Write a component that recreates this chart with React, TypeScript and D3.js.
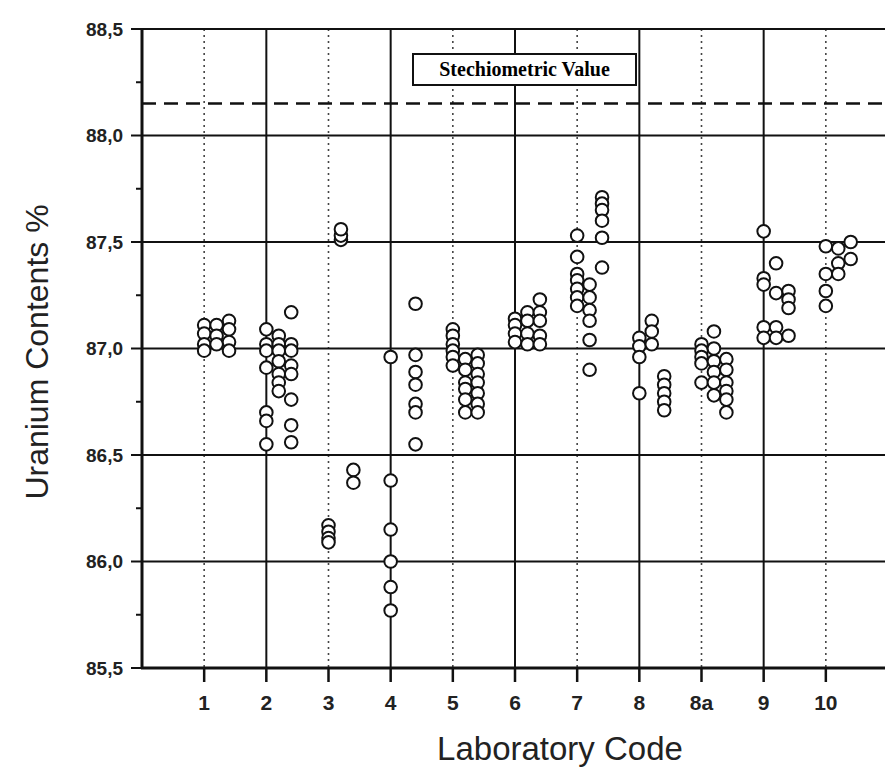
import React from 'react';
import * as d3 from 'd3';

// laboratory codes along the x axis (positions 1..11)
const labCodes = ["1", "2", "3", "4", "5", "6", "7", "8", "8a", "9", "10"];

// three replicate series per laboratory
const replicateA = [
  [87.11, 87.07, 87.02, 86.99],
  [87.09, 87.02, 86.99, 86.91, 86.70, 86.66, 86.55],
  [86.17, 86.14, 86.11, 86.09],
  [86.96, 86.38, 86.15, 86.0, 85.88, 85.77],
  [87.09, 87.06, 87.02, 86.99, 86.96, 86.92],
  [87.14, 87.11, 87.07, 87.03],
  [87.53, 87.43, 87.35, 87.32, 87.28, 87.24, 87.20],
  [87.05, 87.01, 86.96, 86.79],
  [87.02, 86.99, 86.96, 86.93, 86.84],
  [87.55, 87.33, 87.30, 87.10, 87.05],
  [87.48, 87.35, 87.27, 87.20],
];
const replicateB = [
  [87.11, 87.06, 87.02],
  [87.06, 87.02, 86.99, 86.94, 86.88, 86.84, 86.80],
  [87.51, 87.53, 87.56],
  [],
  [86.95, 86.90, 86.84, 86.81, 86.76, 86.70],
  [87.17, 87.13, 87.07, 87.02],
  [87.30, 87.24, 87.18, 87.13, 87.04, 86.90],
  [87.13, 87.08, 87.02],
  [87.08, 87.00, 86.94, 86.89, 86.84, 86.78],
  [87.40, 87.26, 87.10, 87.05],
  [87.47, 87.40, 87.35],
];
const replicateC = [
  [87.13, 87.09, 87.03, 86.99],
  [87.17, 87.02, 86.99, 86.92, 86.88, 86.76, 86.64, 86.56],
  [86.43, 86.37],
  [87.21, 86.97, 86.89, 86.83, 86.74, 86.70, 86.55],
  [86.97, 86.93, 86.88, 86.84, 86.79, 86.74, 86.70],
  [87.23, 87.17, 87.13, 87.06, 87.02],
  [87.71, 87.68, 87.65, 87.60, 87.52, 87.38],
  [86.87, 86.83, 86.79, 86.75, 86.71],
  [86.95, 86.90, 86.84, 86.80, 86.76, 86.70],
  [87.27, 87.23, 87.19, 87.06],
  [87.50, 87.42],
];

const stoichiometricValue = 88.15;
const yTicks = [85.5, 86.0, 86.5, 87.0, 87.5, 88.0, 88.5];
const yMinorTicks = [85.75, 86.25, 86.75, 87.25, 87.75, 88.25];

const width = 885;
const height = 769;
const margin = { top: 29, left: 142, bottom: 101 };

export default function App() {
  const x = d3.scaleLinear().domain([0, 12]).range([margin.left, 888]);
  const y = d3.scaleLinear().domain([85.5, 88.5]).range([height - margin.bottom, margin.top]);
  const shift = d3.scalePoint().domain(["A", "B", "C"]).range([0, 0.4]);

  const series = [
    { key: "A", values: replicateA },
    { key: "B", values: replicateB },
    { key: "C", values: replicateC },
  ];
  const points = series.flatMap(s =>
    s.values.flatMap((vals, i) => vals.map(v => ({ pos: i + 1 + shift(s.key), v })))
  );

  const fmt = (v: number) => d3.format(".1f")(v).replace(".", ",");
  const positions = labCodes.map((_, i) => i + 1);
  const x0 = x(0);
  const yb = y(85.5);
  const yt = y(88.5);

  return (
    <svg width={width} height={height}
      style={{ position: "absolute", left: 0, top: 0, background: "#fff" }}
      fontFamily="'Liberation Sans', Arial, sans-serif">
      {/* minor (dotted) vertical grid at odd positions */}
      {positions.filter(p => p % 2 === 1).map(p => (
        <line key={"mv" + p} x1={x(p)} x2={x(p)} y1={yt} y2={yb}
          stroke="#444" strokeWidth={1.6} strokeDasharray="2,4" />
      ))}
      {/* major vertical grid at even positions */}
      {positions.filter(p => p % 2 === 0).map(p => (
        <line key={"Mv" + p} x1={x(p)} x2={x(p)} y1={yt} y2={yb}
          stroke="#111" strokeWidth={2} />
      ))}
      {/* horizontal grid */}
      {yTicks.slice(1, -1).map(t => (
        <line key={"h" + t} x1={x0} x2={width} y1={y(t)} y2={y(t)}
          stroke="#111" strokeWidth={2} />
      ))}
      {/* top frame */}
      <line x1={x0} x2={width} y1={yt} y2={yt} stroke="#111" strokeWidth={2} />

      {/* stoichiometric reference */}
      <line x1={x0} x2={width} y1={y(stoichiometricValue)} y2={y(stoichiometricValue)}
        stroke="#111" strokeWidth={2.5} strokeDasharray="14,8" />
      <rect x={413} y={54} width={223} height={31} fill="#fff" stroke="#111" strokeWidth={2} />
      <text x={524.5} y={76} textAnchor="middle" fontFamily="'Liberation Serif', 'Times New Roman', serif"
        fontWeight="bold" fontSize={20}>Stechiometric Value</text>

      {/* data points */}
      {points.map((d, i) => (
        <circle key={i} cx={x(d.pos)} cy={y(d.v)} r={6.3}
          fill="#fff" stroke="#111" strokeWidth={2} />
      ))}

      {/* axes */}
      <line x1={x0} x2={x0} y1={yt - 1} y2={yb + 1} stroke="#111" strokeWidth={3} />
      <line x1={x0 - 1} x2={width} y1={yb} y2={yb} stroke="#111" strokeWidth={3} />
      {yTicks.map(t => (
        <g key={"yt" + t}>
          <line x1={x0 - 11} x2={x0} y1={y(t)} y2={y(t)} stroke="#111" strokeWidth={2} />
          <text x={x0 - 19} y={y(t)} dy="0.36em" textAnchor="end" fontSize={19}
            fontWeight="bold" fill="#222">{fmt(t)}</text>
        </g>
      ))}
      {yMinorTicks.map(t => (
        <line key={"ym" + t} x1={x0 - 6} x2={x0} y1={y(t)} y2={y(t)} stroke="#111" strokeWidth={2} />
      ))}
      {labCodes.map((c, i) => (
        <g key={"xt" + c}>
          <line x1={x(i + 1)} x2={x(i + 1)} y1={yb} y2={yb + 14} stroke="#111" strokeWidth={2.5} />
          <text x={x(i + 1)} y={yb + 42} textAnchor="middle" fontSize={21}
            fontWeight="bold" fill="#222">{c}</text>
        </g>
      ))}

      {/* axis titles */}
      <text x={560} y={760} textAnchor="middle" fontSize={33} fill="#222">Laboratory Code</text>
      <text transform={`translate(48, 352) rotate(-90)`} textAnchor="middle" fontSize={32}
        fill="#222">Uranium Contents %</text>
    </svg>
  );
}
